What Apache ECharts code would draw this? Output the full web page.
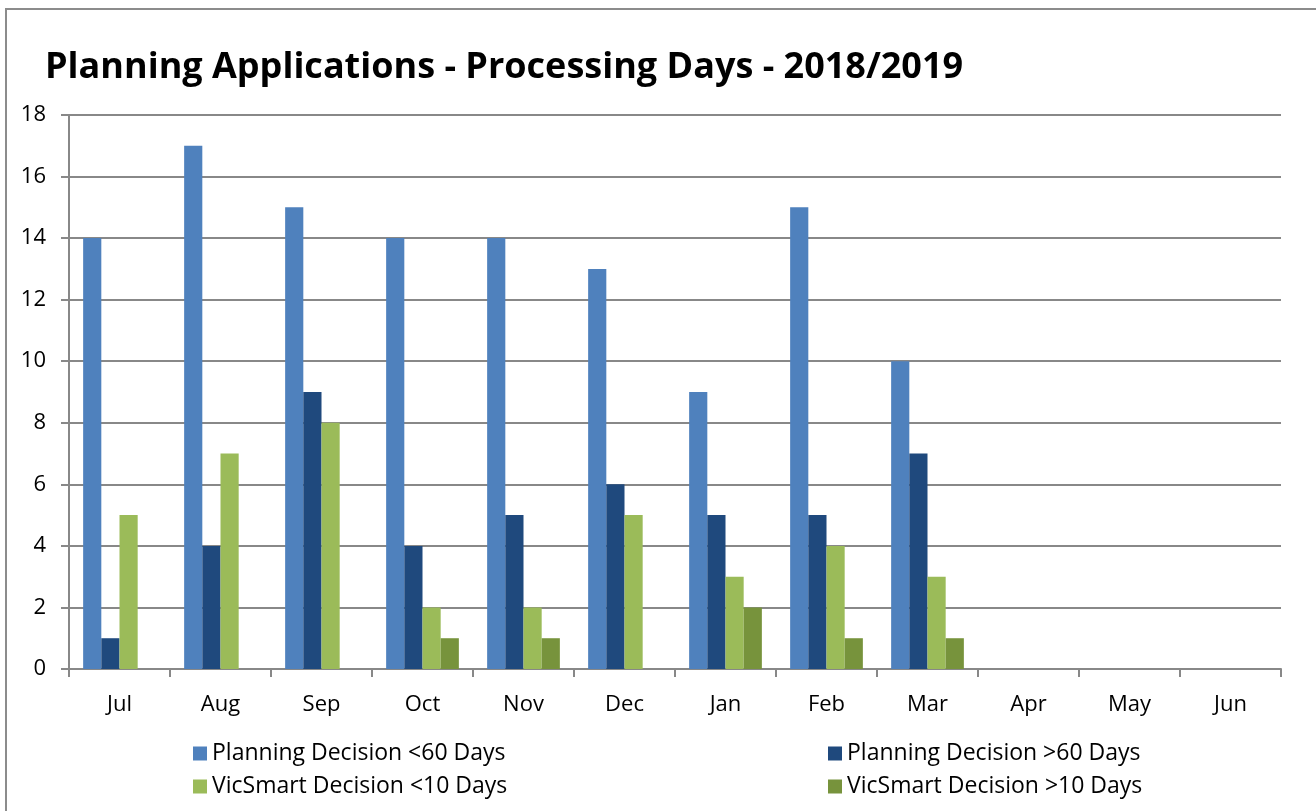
<!DOCTYPE html>
<html>
<head>
<meta charset="utf-8">
<script src="https://cdn.jsdelivr.net/npm/echarts@6/dist/echarts.min.js"></script>
<style>
  html, body { margin: 0; padding: 0; background: #fff; }
  #chart { width: 1316px; height: 811px; }
</style>
</head>
<body>
<div id="chart"></div>
<script>
// Monthly counts of decided planning applications, financial year 2018/2019
const months = ['Jul', 'Aug', 'Sep', 'Oct', 'Nov', 'Dec', 'Jan', 'Feb', 'Mar', 'Apr', 'May', 'Jun'];
const planningUnder60 = [14, 17, 15, 14, 14, 13, 9, 15, 10, null, null, null];
const planningOver60 = [1, 4, 9, 4, 5, 6, 5, 5, 7, null, null, null];
const vicSmartUnder10 = [5, 7, 8, 2, 2, 5, 3, 4, 3, null, null, null];
const vicSmartOver10 = [0, 0, 0, 1, 1, 0, 2, 1, 1, null, null, null];
const seriesNames = [
  'Planning Decision <60 Days',
  'Planning Decision >60 Days',
  'VicSmart Decision <10 Days',
  'VicSmart Decision >10 Days'
];

const font = 'Open Sans, Noto Sans, sans-serif';
const chart = echarts.init(document.getElementById('chart'));

function bar(name, data, color) {
  return {
    name: name,
    type: 'bar',
    data: data,
    barGap: '0%',
    barCategoryGap: '28%',
    itemStyle: { color: color },
    emphasis: { disabled: true }
  };
}

chart.setOption({
  animation: false,
  backgroundColor: '#fff',
  textStyle: { fontFamily: font },
  graphic: [{
    type: 'rect',
    shape: { x: 6, y: 9, width: 1330, height: 820 },
    style: { fill: 'none', stroke: '#8c8c8c', lineWidth: 2 },
    silent: true
  }],
  title: {
    text: 'Planning Applications - Processing Days - 2018/2019',
    left: 40,
    top: 45,
    textStyle: { fontFamily: font, fontSize: 36, fontWeight: 'bold', color: '#000' }
  },
  legend: [{
    data: [seriesNames[0], seriesNames[2]],
    orient: 'vertical',
    left: 188,
    top: 737,
    itemWidth: 14,
    itemHeight: 14,
    itemGap: 10,
    icon: 'rect',
    textStyle: { fontFamily: font, fontSize: 23, color: '#000' }
  }, {
    data: [seriesNames[1], seriesNames[3]],
    orient: 'vertical',
    left: 823,
    top: 737,
    itemWidth: 14,
    itemHeight: 14,
    itemGap: 10,
    icon: 'rect',
    textStyle: { fontFamily: font, fontSize: 23, color: '#000' }
  }],
  grid: { left: 69, right: 35, top: 115, bottom: 142, containLabel: false },
  xAxis: {
    type: 'category',
    data: months,
    boundaryGap: true,
    axisLine: { lineStyle: { color: '#888', width: 2 } },
    axisTick: { show: true, length: 8, lineStyle: { color: '#888', width: 2 } },
    axisLabel: { fontFamily: font, fontSize: 22, color: '#000', margin: 25 }
  },
  yAxis: {
    type: 'value',
    min: 0,
    max: 18,
    interval: 2,
    axisLine: { show: true, lineStyle: { color: '#888', width: 2 } },
    axisTick: { show: true, length: 8, lineStyle: { color: '#888', width: 2 } },
    axisLabel: { fontFamily: font, fontSize: 22, color: '#000', margin: 23 },
    splitLine: { lineStyle: { color: '#888', width: 2 } }
  },
  series: [
    bar(seriesNames[0], planningUnder60, '#4f81bd'),
    bar(seriesNames[1], planningOver60, '#1f497d'),
    bar(seriesNames[2], vicSmartUnder10, '#9bbb59'),
    bar(seriesNames[3], vicSmartOver10, '#77933c')
  ]
});
</script>
</body>
</html>
